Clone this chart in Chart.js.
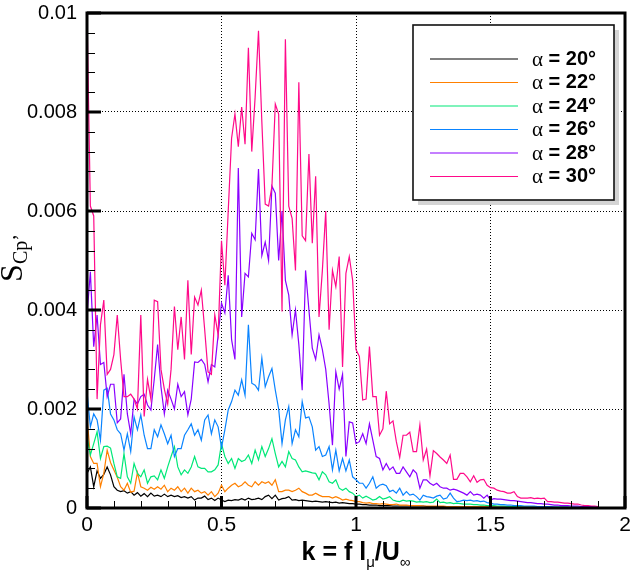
<!DOCTYPE html>
<html>
<head>
<meta charset="utf-8">
<script src="https://cdn.jsdelivr.net/npm/chart.js@4.4.0/dist/chart.umd.min.js"></script>
<style>
html, body { margin: 0; padding: 0; background: #fff; }
#c { display: block; }
</style>
</head>
<body>
<canvas id="c" width="630" height="576"></canvas>
<script>
// reduced frequency k = f l / U
var K = [
  0,0.0125,0.025,0.0375,0.05,0.0625,0.075,0.0875,0.1,0.1125,
  0.125,0.1375,0.15,0.1625,0.175,0.1875,0.2,0.2125,0.225,0.2375,
  0.25,0.2625,0.275,0.2875,0.3,0.3125,0.325,0.3375,0.35,0.3625,
  0.375,0.3875,0.4,0.4125,0.425,0.4375,0.45,0.4625,0.475,0.4875,
  0.5,0.5125,0.525,0.5375,0.55,0.5625,0.575,0.5875,0.6,0.6125,
  0.625,0.6375,0.65,0.6625,0.675,0.6875,0.7,0.7125,0.725,0.7375,
  0.75,0.7625,0.775,0.7875,0.8,0.8125,0.825,0.8375,0.85,0.8625,
  0.875,0.8875,0.9,0.9125,0.925,0.9375,0.95,0.9625,0.975,0.9875,
  1,1.0125,1.025,1.0375,1.05,1.0625,1.075,1.0875,1.1,1.1125,
  1.125,1.1375,1.15,1.1625,1.175,1.1875,1.2,1.2125,1.225,1.2375,
  1.25,1.2625,1.275,1.2875,1.3,1.3125,1.325,1.3375,1.35,1.3625,
  1.375,1.3875,1.4,1.4125,1.425,1.4375,1.45,1.4625,1.475,1.4875,
  1.5,1.5125,1.525,1.5375,1.55,1.5625,1.575,1.5875,1.6,1.6125,
  1.625,1.6375,1.65,1.6625,1.675,1.6875,1.7,1.7125,1.725,1.7375,
  1.75,1.7625,1.775,1.7875,1.8,1.8125,1.825,1.8375,1.85,1.8625,
  1.875,1.8875,1.9
];

// S_Cp' spectra, in units of 1e-4
var S20 = [
  7,8.3,4.3,7.5,6,6.8,8.3,6.7,4.3,3.6,
  3.3,3.5,3,3.3,2.6,3.1,2.4,2.9,2.3,3,
  2.4,2.6,2.3,2.8,2.3,2.6,2.3,2.5,2.1,2.3,
  2,2.3,1.6,2,2,2.4,1.7,2,1.5,2,
  1.6,1.3,1.6,1.5,1.7,1.6,1.9,1.6,2,1.7,
  1.8,2,1.7,2.3,2.6,1.9,2.6,1.6,1.9,2,
  2.3,1.6,1.7,1.5,1.6,1.5,1.4,1.3,1.4,1.3,
  1.2,1.3,1.2,1.1,1.2,1,1.1,1,0.9,0.9,
  0.8,0.8,0.7,0.7,0.6,0.6,0.6,0.5,0.5,0.5,
  0.5,0.4,0.4,0.4,0.4,0.4,0.4,0.4,0.4,0.4,
  0.4,0.3,0.3,0.3,0.3,0.3,0.3,0.3,0.3,0.3,
  0.3,0.3,0.3,0.3,0.3,0.3,0.2,0.2,0.2,0.2,
  0.2,0.2,0.2,0.2,0.2,0.2,0.2,0.2,0.2,0.2,
  0.2,0.2,0.2,0.2,0.2,0.2,0.1,0.1,0.1,0.1,
  0.1,0.1,0.1,0.1,0.1,0.1,0.1,0.1,0.1,0.1,
  0.1,0.1,0.1
];
var S22 = [
  18.4,10.4,9,9,4.3,7,11.7,9.2,7.7,6.2,
  4.3,3.6,5,3.2,3.4,7.2,4.3,4,3.6,4.2,
  3.8,4.3,3.8,4.6,3.3,4,3.6,4.3,3.3,4,
  3,4,3.3,3.6,3,3.3,2.6,3.3,2.3,3,
  4.6,3.3,4,4.6,5,4.3,4.6,5.3,4.6,4.3,
  5.3,4.6,5.3,5,5.3,4.6,5.7,3.3,3.3,3.6,
  3.6,3.3,3.6,4,3.3,3,2.6,2.6,3,2.6,
  2.3,2.3,2.3,2,2.3,2,1.6,1.8,1.6,1.5,
  1.3,1.3,1.1,1,1.1,0.9,0.9,0.8,0.9,0.8,
  0.7,0.7,0.8,0.6,0.6,0.6,0.5,0.5,0.5,0.5,
  0.4,0.4,0.4,0.4,0.4,0.4,0.4,0.3,0.3,0.3,
  0.3,0.3,0.3,0.3,0.3,0.3,0.3,0.3,0.3,0.3,
  0.2,0.2,0.2,0.2,0.2,0.2,0.2,0.2,0.2,0.2,
  0.2,0.2,0.2,0.2,0.1,0.1,0.1,0.1,0.1,0.1,
  0.1,0.1,0.1,0.1,0.1,0.1,0.1,0.1,0.1,0.1,
  0.1,0.1,0.1
];
var S24 = [
  14.4,10.7,13,15.4,10,12.4,12.5,12.1,9,6.3,
  6,11,6.3,5,9,7,6.3,7.7,5,6.3,
  6.5,5.7,7.7,6,8.3,10.4,12.4,8.3,6.7,7.7,
  7,8.3,10.4,8.3,8,8,7.3,7.3,7.7,8.7,
  13,10.4,9,10,8,10,9.4,9.7,10.7,9,
  11.7,9.7,12.4,10.4,12,14,11,8.3,9.4,8.3,
  11.4,10,9.7,8.3,7.3,7.5,7.3,7.1,7,5.7,
  7.3,6.7,5.3,5,5.7,4,3.6,4,3.3,3,
  2.3,2.6,2,2.4,2,1.6,1.8,2.3,1.8,2,
  2.3,1.6,1.4,1.3,1.6,1.4,1.5,1.4,1.2,1.3,
  1.2,1.3,1.1,1.2,1.8,1.1,1.2,1,1.1,0.9,
  1,0.9,0.8,0.8,0.8,0.7,0.7,0.6,0.6,0.5,
  0.5,0.5,0.4,0.4,0.4,0.3,0.3,0.3,0.3,0.2,
  0.2,0.2,0.2,0.2,0.2,0.2,0.2,0.2,0.2,0.2,
  0.2,0.2,0.2,0.2,0.1,0.1,0.1,0.1,0.1,0.1,
  0.1,0.1,0.1
];
var S26 = [
  23.5,16.4,19,17.8,13.7,23.8,24.2,19,17.8,15.8,
  15,11.7,15,11.4,18.4,15.8,18.8,14.7,12,12,
  15.8,14.4,16.8,15,13,14.7,10.4,12,12,14.7,
  15.8,17,14.7,15.8,13.7,17.8,18.8,15,17.8,16.4,
  12.2,15.8,19.8,21.5,23.8,22.8,25.9,22.8,37,25.2,
  24.8,23.8,30.3,24.5,26.5,28.2,23.8,20,13,17.8,
  20.5,13,15.8,14.4,21.5,18.2,18.4,16.4,11.7,12.4,
  10.4,10.7,12.4,7.7,11.7,7.5,10,7.5,9.7,6.3,
  5.7,5,5,4,5,6.3,4,4.6,4.8,4.5,
  3.3,3.6,3,4,2.6,3.3,2.6,2.8,2.3,1.6,
  2.6,2.3,2.2,2,2.4,2.6,1.8,2,3,2,
  1.3,1.4,1.6,1.5,1.6,1.4,1.5,1.3,1.4,1.1,
  1,0.8,0.8,0.7,0.7,0.6,0.6,0.5,0.5,0.5,
  0.4,0.4,0.4,0.4,0.3,0.3,0.3,0.3,0.3,0.2,
  0.2,0.2,0.2,0.2,0.2,0.2,0.2,0.2,0.2,0.2,
  0.2,0.2,0.2
];
var S28 = [
  39,47.7,32.6,39,29,29.4,22.5,25,25,17.2,
  18,27,19,15,22,21,22.5,23,20.8,19.8,
  26,33,24.5,19,23.8,22,20,25,22.5,23.5,
  18.8,22,29.5,29.4,30,29,25.5,29,28.5,35,
  41.4,39.4,47,34,30,68.7,38.6,47.4,46.7,55.5,
  54.2,68.5,51,53.7,50,65,63.6,50,60,46,
  43,35,40,33,23.8,48,40,32.3,30,35,
  32,28,21,12.7,27.5,24,27,10.4,17.4,17.2,
  13,13.4,15,13,17,13.7,10.4,10,7.7,9,
  7.7,8.3,7,7,8.3,7.3,6.3,7.7,7,4,
  5.7,5.7,5,4.6,5,4.3,4,4,3.6,3.8,
  3.6,3.3,3,2.6,3.3,2.6,2.8,2.6,2,2.6,
  1.6,1.9,1.8,1.8,1.7,1.6,1.5,1.5,1.4,1.3,
  1.2,1.1,1.1,1,0.9,0.9,0.8,0.8,0.7,0.6,
  0.6,0.5,0.5,0.5,0.4,0.4,0.4,0.3,0.3,0.3,
  0.3,0.2,0.2
];
var S30 = [
  100,61,59,22,37,42,27,28,31,39,
  30,22.5,22.5,23,22,20,39,18.5,26,22,
  42,41.7,28,24,21,28,40.7,32,38.6,30,
  46,31,42.6,41,44,36,27.5,27,39,35,
  54,45,60,74.7,79.6,73,81,73.5,93,72,
  83,96.4,78,61.4,61,65,81.6,79.6,39.7,94.7,
  61,58.5,48,86,55,54,71.5,53.5,67,38.6,
  48,60,36,48,44.7,50.8,28.5,47.4,50.8,46,
  32,30.6,21.8,22,32.6,22.5,22.5,14.7,16,23.6,
  17,17.6,13.4,10.2,14.7,14.7,15.3,11.4,11.4,16.8,
  9.7,11.9,6.5,11.6,11,10.3,9.7,9,10.7,5.8,
  5.8,7,7,6.3,5.3,6.5,5.2,5.7,5.8,4.6,
  4.1,4,3.6,3.4,3.3,3,3,3.3,2.3,2,
  2,2,2.1,1.9,2,1.9,2,1.3,1.3,1.2,
  1.2,1.1,1,1,0.9,0.8,0.8,0.6,0.5,0.5,
  0.4,0.4,0.3
];

var angles = ['20°', '22°', '24°', '26°', '28°', '30°'];
var series = [S20, S22, S24, S26, S28, S30];
var colors = ['#000000', '#ff8000', '#00e878', '#0a84ff', '#8a00ff', '#ff0a8a'];
var xTicks = [0, 0.5, 1, 1.5, 2];
var xTickLabels = ['0', '0.5', '1', '1.5', '2'];
var yTickLabels = ['0', '0.002', '0.004', '0.006', '0.008', '0.01'];

var SANS = '"Liberation Sans", Arial, sans-serif';
var SERIF = '"Liberation Serif", "Times New Roman", serif';

// frame, inward ticks, legend box and axis titles
var decor = {
    id: 'decor',
    afterDatasetsDraw: function (chart) {
        var ctx = chart.ctx, a = chart.chartArea;
        var sx = chart.scales.x, sy = chart.scales.y;
        ctx.save();
        ctx.strokeStyle = '#000';

        // minor ticks
        ctx.lineWidth = 1;
        ctx.beginPath();
        for (var i = 1; i < 20; i++) {
            if (i % 5 === 0) continue;
            var px = Math.round(sx.getPixelForValue(i / 10)) + 0.5;
            ctx.moveTo(px, a.bottom);
            ctx.lineTo(px, a.bottom - 7);
        }
        for (var j = 1; j < 25; j++) {
            if (j % 5 === 0) continue;
            var py = Math.round(sy.getPixelForValue(j * 4)) + 0.5;
            ctx.moveTo(a.left, py);
            ctx.lineTo(a.left + 8, py);
        }
        ctx.stroke();

        // major ticks
        ctx.lineWidth = 3;
        ctx.beginPath();
        xTicks.forEach(function (v) {
            var px = sx.getPixelForValue(v);
            ctx.moveTo(px, a.bottom);
            ctx.lineTo(px, a.bottom - 12);
        });
        for (var m = 0; m <= 100; m += 20) {
            var py2 = sy.getPixelForValue(m);
            ctx.moveTo(a.left, py2);
            ctx.lineTo(a.left + 14, py2);
        }
        ctx.stroke();

        // frame
        ctx.lineWidth = 3;
        ctx.strokeRect(a.left, a.top, a.right - a.left, a.bottom - a.top);

        // legend
        var lx = 413, ly = 25, lw = 201, lh = 175;
        ctx.fillStyle = '#d4d4d4';
        ctx.fillRect(lx + 5, ly + 5, lw, lh);
        ctx.fillStyle = '#fff';
        ctx.fillRect(lx, ly, lw, lh);
        ctx.lineWidth = 1.6;
        ctx.strokeStyle = '#111';
        ctx.strokeRect(lx, ly, lw, lh);
        ctx.textBaseline = 'middle';
        ctx.textAlign = 'left';
        angles.forEach(function (t, i) {
            var ry = 59 + i * 23.5;
            ctx.strokeStyle = colors[i];
            ctx.lineWidth = 1.2;
            ctx.beginPath();
            ctx.moveTo(430, ry);
            ctx.lineTo(518, ry);
            ctx.stroke();
            ctx.fillStyle = '#000';
            ctx.font = '21px ' + SERIF;
            ctx.fillText('α', 532, ry + 1);
            var w = ctx.measureText('α').width;
            ctx.font = 'bold 20px ' + SANS;
            ctx.fillText(' = ' + t, 532 + w, ry);
        });

        // y title: S with subscript Cp'
        ctx.save();
        ctx.translate(22, 258);
        ctx.rotate(-Math.PI / 2);
        ctx.textBaseline = 'alphabetic';
        ctx.fillStyle = '#000';
        ctx.font = '32px ' + SERIF;
        var wS = ctx.measureText('S').width;
        ctx.font = '20px ' + SERIF;
        var wSub = ctx.measureText('Cp\u2019').width;
        var x0 = -(wS + wSub) / 2;
        ctx.font = '32px ' + SERIF;
        ctx.fillText('S', x0, 0);
        ctx.font = '20px ' + SERIF;
        ctx.fillText('Cp\u2019', x0 + wS, 5);
        ctx.restore();

        // x title: k = f l_mu / U_inf
        var parts = [
            { t: 'k = f l', f: 'bold 25px ' + SANS, dy: 0 },
            { t: 'μ', f: '15px ' + SANS, dy: 7 },
            { t: '/U', f: 'bold 25px ' + SANS, dy: 0 },
            { t: '∞', f: '15px ' + SANS, dy: 7 }
        ];
        var tw = 0;
        parts.forEach(function (p) { ctx.font = p.f; p.w = ctx.measureText(p.t).width; tw += p.w; });
        var cx = (a.left + a.right) / 2 - tw / 2;
        ctx.textBaseline = 'alphabetic';
        ctx.fillStyle = '#000';
        parts.forEach(function (p) {
            ctx.font = p.f;
            ctx.fillText(p.t, cx, 560 + p.dy);
            cx += p.w;
        });
        ctx.restore();
    }
};

var datasets = series.map(function (s, i) {
    return {
        label: 'α = ' + angles[i],
        data: K.map(function (k, j) { return { x: k, y: s[j] }; }),
        borderColor: colors[i],
        borderWidth: 1.2,
        pointRadius: 0,
        tension: 0,
        fill: false,
        order: series.length - 1 - i
    };
});

new Chart(document.getElementById('c'), {
    type: 'line',
    data: { datasets: datasets },
    options: {
        responsive: false,
        animation: false,
        devicePixelRatio: 1,
        layout: { padding: { top: 13, right: 5, left: 0, bottom: 0 } },
        plugins: { legend: { display: false }, tooltip: { enabled: false } },
        scales: {
            x: {
                type: 'linear',
                min: 0,
                max: 2,
                afterBuildTicks: function (s) { s.ticks = xTicks.map(function (v) { return { value: v }; }); },
                afterFit: function (s) { s.height = 68; s.paddingLeft = 0; s.paddingRight = 0; },
                ticks: {
                    callback: function (v, i) { return xTickLabels[i]; },
                    font: { family: SANS, size: 21 },
                    color: '#000',
                    padding: 5,
                    maxRotation: 0,
                    autoSkip: false
                },
                grid: {
                    drawTicks: false,
                    lineWidth: 1,
                    color: function (c) { return (c.tick && c.tick.value > 0 && c.tick.value < 2) ? '#000' : 'rgba(0,0,0,0)'; }
                },
                border: { display: false, dash: [1, 2] }
            },
            y: {
                type: 'linear',
                min: 0,
                max: 100,
                ticks: {
                    stepSize: 20,
                    callback: function (v, i) { return yTickLabels[i]; },
                    font: { family: SANS, size: 20 },
                    color: '#000',
                    padding: 10,
                    autoSkip: false
                },
                afterFit: function (s) { s.width = 87; s.paddingTop = 0; s.paddingBottom = 0; },
                grid: {
                    drawTicks: false,
                    lineWidth: 1,
                    color: function (c) { return (c.tick && c.tick.value > 0 && c.tick.value < 100) ? '#000' : 'rgba(0,0,0,0)'; }
                },
                border: { display: false, dash: [1, 2] }
            }
        }
    },
    plugins: [decor]
});
</script>
</body>
</html>
